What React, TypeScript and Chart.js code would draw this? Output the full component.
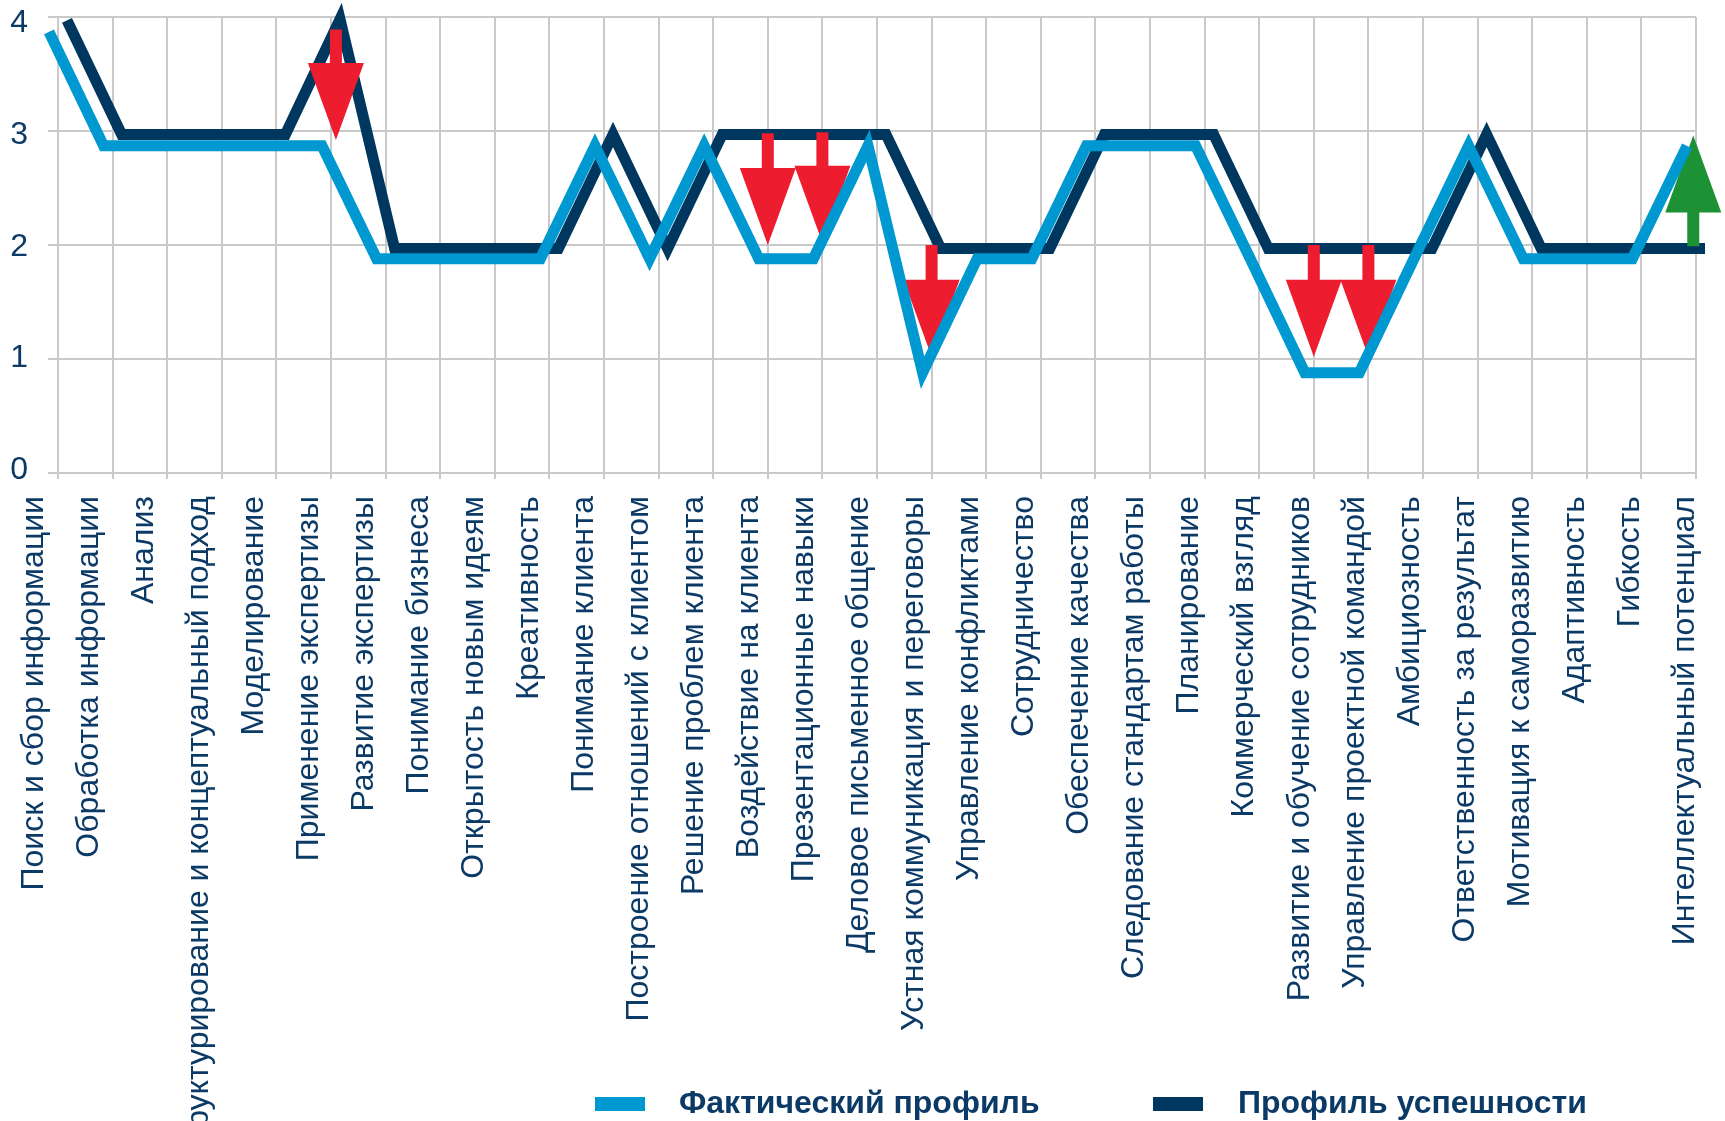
import React, { useEffect, useRef } from "react";
import { Chart, registerables } from "chart.js";

Chart.register(...registerables);

// ---------- data ----------
const categories = [
  "Поиск и сбор информации",
  "Обработка информации",
  "Анализ",
  "Структурирование и концептуальный подход",
  "Моделирование",
  "Применение экспертизы",
  "Развитие экспертизы",
  "Понимание бизнеса",
  "Открытость новым идеям",
  "Креативность",
  "Понимание клиента",
  "Построение отношений с клиентом",
  "Решение проблем клиента",
  "Воздействие на клиента",
  "Презентационные навыки",
  "Деловое письменное общение",
  "Устная коммуникация и переговоры",
  "Управление конфликтами",
  "Сотрудничество",
  "Обеспечение качества",
  "Следование стандартам работы",
  "Планирование",
  "Коммерческий взгляд",
  "Развитие и обучение сотрудников",
  "Управление проектной командой",
  "Амбициозность",
  "Ответственность за результат",
  "Мотивация к саморазвитию",
  "Адаптивность",
  "Гибкость",
  "Интеллектуальный потенциал",
];

const seriesNames = ["Фактический профиль", "Профиль успешности"];

const actualProfile = [
  3.87, 2.87, 2.87, 2.87, 2.87, 2.87, 1.88, 1.88, 1.88, 1.88,
  2.87, 1.88, 2.87, 1.88, 1.88, 2.87, 0.88, 1.88, 1.88, 2.87,
  2.87, 2.87, 1.88, 0.88, 0.88, 1.88, 2.87, 1.88, 1.88, 1.88,
  2.87,
];

const successProfile = [
  3.97, 2.97, 2.97, 2.97, 2.97, 3.98, 1.97, 1.97, 1.97, 1.97,
  2.97, 1.97, 2.97, 2.97, 2.97, 2.97, 1.97, 1.97, 1.97, 2.97,
  2.97, 2.97, 1.97, 1.97, 1.97, 1.97, 2.97, 1.97, 1.97, 1.97,
  1.97,
];

const yTickValues = [0, 1, 2, 3, 4];
const yMin = 0;
const yMax = 4;

// arrows (category position, start value, end value)
const downArrowAt = [5.09, 13, 14, 16, 23, 24];
const downArrowFrom = [3.89, 2.98, 2.99, 2.0, 2.0, 2.0];
const downArrowTo = [2.92, 2.0, 2.02, 1.02, 1.02, 1.02];
const upArrowAt = [29.95];
const upArrowFrom = [1.99];
const upArrowTo = [2.96];

// ---------- style ----------
const LIGHT = "#0098D1";
const DARK = "#00375F";
const RED = "#ED1C2E";
const GREEN = "#1C9234";
const GRID = "#C9C9C9";
const TEXT = "#0C3A66";
const FONT = "'Liberation Sans', Arial, sans-serif";
const LIGHT_SHIFT = -0.165;
const DARK_SHIFT = 0.165;

function drawArrow(ctx: CanvasRenderingContext2D, x: number, y0: number, y1: number, color: string) {
  const dir = y1 > y0 ? 1 : -1;
  const headLen = 77;
  const headHalf = 28;
  const shaftHalf = 6;
  const yb = y1 - dir * headLen;
  ctx.save();
  ctx.fillStyle = color;
  ctx.beginPath();
  ctx.moveTo(x - shaftHalf, y0);
  ctx.lineTo(x + shaftHalf, y0);
  ctx.lineTo(x + shaftHalf, yb);
  ctx.lineTo(x + headHalf, yb);
  ctx.lineTo(x, y1);
  ctx.lineTo(x - headHalf, yb);
  ctx.lineTo(x - shaftHalf, yb);
  ctx.closePath();
  ctx.fill();
  ctx.restore();
}

const arrowPlugin = {
  id: "arrowPlugin",
  afterDatasetDraw(chart: any, args: any) {
    if (args.index !== 1) return;
    const ctx = chart.ctx;
    const xs = chart.scales.x;
    const ys = chart.scales.y;
    downArrowAt.forEach((c, i) => {
      drawArrow(ctx, xs.getPixelForValue(c), ys.getPixelForValue(downArrowFrom[i]), ys.getPixelForValue(downArrowTo[i]), RED);
    });
    upArrowAt.forEach((c, i) => {
      drawArrow(ctx, xs.getPixelForValue(c), ys.getPixelForValue(upArrowFrom[i]), ys.getPixelForValue(upArrowTo[i]), GREEN);
    });
  },
};

const legendPlugin = {
  id: "customLegend",
  afterDraw(chart: any) {
    const ctx = chart.ctx;
    const swatchX = [595, 1153];
    const textX = [679, 1238];
    const colors = [LIGHT, DARK];
    ctx.save();
    ctx.font = `bold 32px ${FONT}`;
    ctx.textBaseline = "alphabetic";
    ctx.textAlign = "left";
    chart.data.datasets.forEach((ds: any, i: number) => {
      ctx.fillStyle = colors[i];
      ctx.fillRect(swatchX[i], 1097, 50, 14);
      ctx.fillStyle = TEXT;
      ctx.fillText(ds.label, textX[i], 1113);
    });
    ctx.restore();
  },
};

export default function App() {
  const ref = useRef<HTMLCanvasElement | null>(null);

  useEffect(() => {
    if (!ref.current) return;
    const chart = new Chart(ref.current, {
      type: "line",
      data: {
        datasets: [
          {
            label: seriesNames[0],
            data: actualProfile.map((v, i) => ({ x: i + LIGHT_SHIFT, y: v })),
            borderColor: LIGHT,
            backgroundColor: LIGHT,
            borderWidth: 11,
            borderJoinStyle: "miter",
            borderCapStyle: "butt",
            pointRadius: 0,
            tension: 0,
            fill: false,
            clip: false,
            xAxisID: "x",
            yAxisID: "y",
          },
          {
            label: seriesNames[1],
            data: successProfile.map((v, i) => ({ x: i + DARK_SHIFT, y: v })),
            borderColor: DARK,
            backgroundColor: DARK,
            borderWidth: 11,
            borderJoinStyle: "miter",
            borderCapStyle: "butt",
            pointRadius: 0,
            tension: 0,
            fill: false,
            clip: false,
            xAxisID: "x",
            yAxisID: "y",
          },
        ],
      },
      options: {
        responsive: false,
        animation: false,
        devicePixelRatio: 1,
        layout: { padding: { left: 0, right: 29, top: 17, bottom: 0 } },
        plugins: {
          legend: { display: false },
          tooltip: { enabled: false },
        },
        scales: {
          // grid / data axis
          x: {
            type: "linear",
            position: "bottom",
            weight: 0,
            min: 0,
            max: categories.length - 1,
            afterFit: (s: any) => {
              s.height = 6;
              s.paddingLeft = 0;
              s.paddingRight = 0;
            },
            ticks: { stepSize: 1, autoSkip: false, display: false },
            grid: { color: GRID, lineWidth: 2, tickLength: 6, drawTicks: true },
            border: { display: true, color: GRID, width: 2 },
          },
          // category label axis
          xl: {
            type: "linear",
            position: "bottom",
            weight: 1,
            min: 0.436,
            max: 30.202,
            afterBuildTicks: (s: any) => {
              s.ticks = categories.map((_, i) => ({ value: i }));
            },
            afterFit: (s: any) => {
              s.height = 642;
              s.paddingLeft = 0;
              s.paddingRight = 0;
            },
            ticks: {
              autoSkip: false,
              maxRotation: 90,
              minRotation: 90,
              padding: 9,
              color: TEXT,
              font: { family: FONT, size: 32 },
              callback: (v: any) => categories[Math.round(Number(v))] ?? "",
            },
            grid: { display: false },
            border: { display: false },
          },
          y: {
            position: "left",
            weight: 0,
            min: yMin,
            max: yMax,
            afterFit: (s: any) => {
              s.width = 10;
              s.paddingTop = 0;
              s.paddingBottom = 0;
            },
            ticks: { stepSize: 1, display: false },
            grid: { color: GRID, lineWidth: 2, tickLength: 10 },
            border: { display: true, color: GRID, width: 2 },
          },
          yl: {
            position: "left",
            weight: 1,
            min: -0.0269,
            max: 4.059,
            afterBuildTicks: (s: any) => {
              s.ticks = yTickValues.map((v) => ({ value: v }));
            },
            afterFit: (s: any) => {
              s.width = 48;
              s.paddingTop = 0;
              s.paddingBottom = 0;
            },
            ticks: {
              padding: 12,
              color: TEXT,
              font: { family: FONT, size: 32, lineHeight: 1 },
            },
            grid: { display: false },
            border: { display: false },
          },
        },
      } as any,
      plugins: [arrowPlugin, legendPlugin],
    });
    return () => chart.destroy();
  }, []);

  return (
    <div style={{ position: "absolute", left: 0, top: 0, width: 1725, height: 1121, background: "#fff" }}>
      <canvas ref={ref} width={1725} height={1121} style={{ display: "block", width: 1725, height: 1121 }} />
    </div>
  );
}
